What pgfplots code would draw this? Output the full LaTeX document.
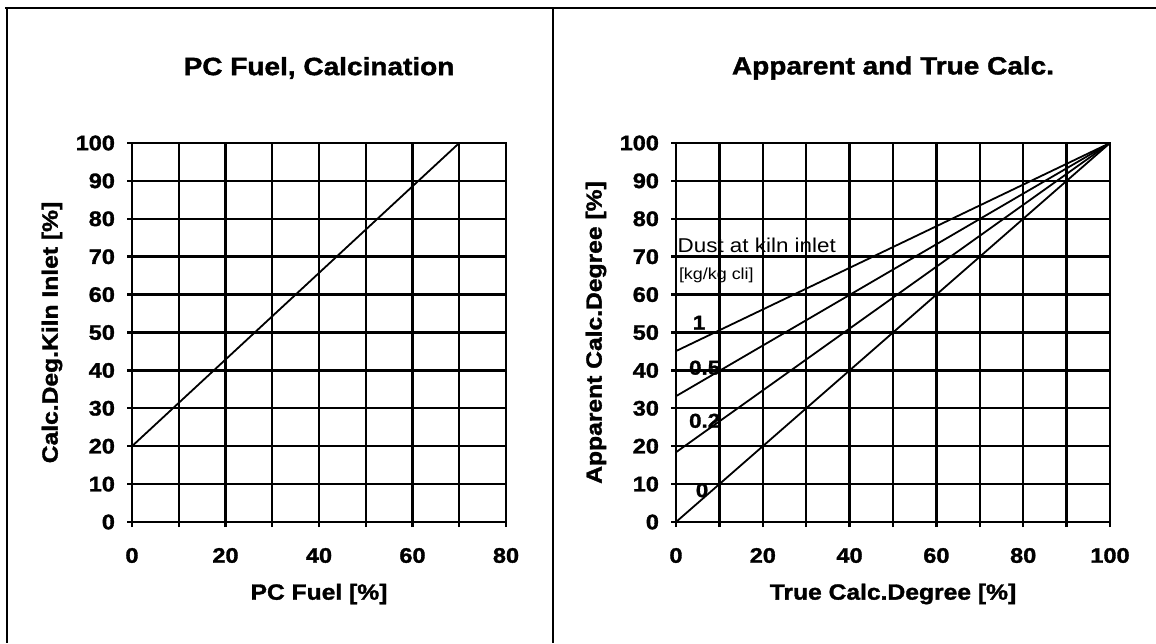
\documentclass[border=0pt]{standalone}
\usepackage{fontspec}
\setmainfont{Liberation Sans}[FakeStretch=1.12, BoldFeatures={FakeBold=1.5}]
\usepackage{pgfplots}
\pgfplotsset{compat=1.18}

\pgfplotsset{
  mystyle/.style={
    scale only axis,
    axis line style={line width=1.2pt},
    grid=major,
    major grid style={black, line width=1.2pt},
    tick style={black, line width=1.2pt},
    major tick length=2.5pt,
    tick align=outside,
    xtick pos=bottom, ytick pos=left,
    ymin=0, ymax=100, ytick={0,10,...,100},
    /pgf/number format/assume math mode=true,
    ticklabel style={font=\bfseries\fontsize{10.5}{12}\selectfont},
    yticklabel style={xshift=-2.5pt},
    xticklabel style={yshift=-7pt},
    label style={font=\bfseries\fontsize{11}{13}\selectfont},
    title style={font=\bfseries\fontsize{12.5}{14}\selectfont, at={(axis description cs:0.5,1)}, anchor=center, yshift=31.5pt},
    xlabel style={at={([yshift=-36pt]axis description cs:0.5,0)}, anchor=center},
    ylabel style={at={([xshift=-40pt]axis description cs:0,0.5)}, anchor=center},
    cycle list={{black, mark=none}},
    every axis plot post/.append style={line width=0.9pt},
  }
}

\begin{document}
\begin{tikzpicture}
\useasboundingbox (0,0) rectangle (578pt,321.5pt);
% frame lines
\draw[line width=1.4pt] (2.5pt,317.5pt) -- (578pt,317.5pt);
\draw[line width=1.4pt] (3.5pt,317.5pt) -- (3.5pt,0pt);
\draw[line width=1.4pt] (276.5pt,317.5pt) -- (276.5pt,0pt);

\begin{axis}[mystyle,
  at={(66pt,60.5pt)}, anchor=south west,
  width=187pt, height=189.5pt,
  xmin=0, xmax=80,
  xtick={0,10,...,80}, xticklabels={0,,20,,40,,60,,80},
  title={PC Fuel, Calcination},
  xlabel={PC Fuel [\%]},
  ylabel={Calc.Deg.Kiln Inlet [\%]},
]
\addplot coordinates {(0,20) (70,100)};
\end{axis}

\begin{axis}[mystyle,
  at={(338pt,60.5pt)}, anchor=south west,
  width=217pt, height=189.5pt,
  xmin=0, xmax=100,
  xtick={0,10,...,100}, xticklabels={0,,20,,40,,60,,80,,100},
  title={Apparent and True Calc.},
  xlabel={True Calc.Degree [\%]},
  ylabel={Apparent Calc.Degree [\%]},
]
\addplot coordinates {(0,45.1) (100,100)};
\addplot coordinates {(0,33.2) (100,100)};
\addplot coordinates {(0,18.4) (100,100)};
\addplot coordinates {(0,0) (100,100)};
\node[anchor=west, inner sep=0pt, font=\fontsize{10}{12}\selectfont] at (axis cs:0.3,73.1) {Dust at kiln inlet};
\node[anchor=west, inner sep=0pt, font=\fontsize{8}{10}\selectfont] at (axis cs:0.6,65.1) {[kg/kg cli]};
\node[font=\bfseries\fontsize{10}{12}\selectfont] at (axis cs:5.3,52.6) {1};
\node[font=\bfseries\fontsize{10}{12}\selectfont] at (axis cs:6.6,40.7) {0.5};
\node[font=\bfseries\fontsize{10}{12}\selectfont] at (axis cs:6.6,26.7) {0.2};
\node[font=\bfseries\fontsize{10}{12}\selectfont] at (axis cs:6.0,8.4) {0};
\end{axis}
\end{tikzpicture}
\end{document}
